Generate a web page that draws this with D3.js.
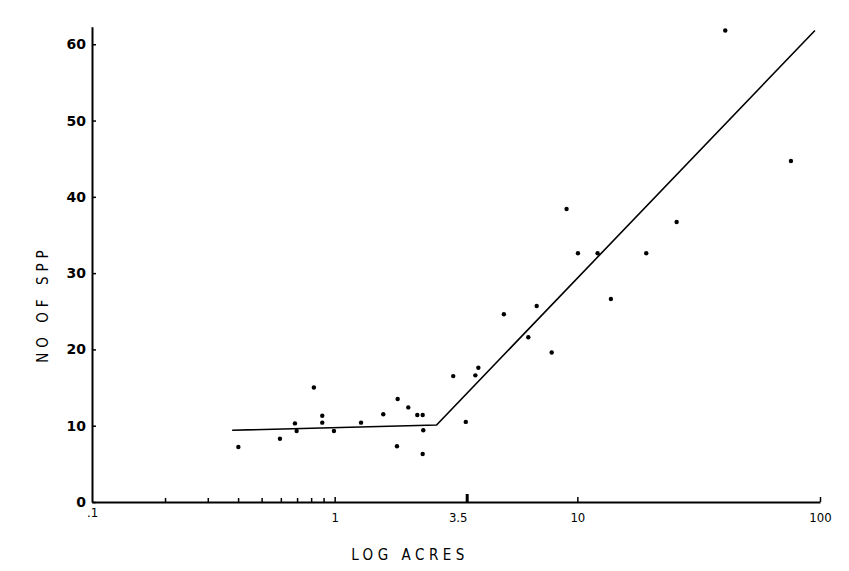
<!DOCTYPE html>
<html>
<head>
<meta charset="utf-8">
<script src="https://cdn.jsdelivr.net/npm/d3@7"></script>
<style>
  body { margin: 0; background: #fff; }
  svg { display: block; }
</style>
</head>
<body>
<svg id="chart" width="849" height="571"></svg>
<script>
// plot points
const acres = [0.401, 0.595, 0.686, 0.697, 0.821, 0.889, 0.889, 0.993, 1.284, 1.586,
               1.818, 1.806, 2.011, 2.190, 2.305, 2.318, 2.305, 3.08, 3.47, 3.80,
               3.91, 4.98, 6.28, 6.80, 7.84, 9.03, 10.06, 12.12, 13.75, 19.23,
               25.66, 40.7, 75.9];
const species = [7.2, 8.3, 10.3, 9.3, 15.0, 11.3, 10.4, 9.3, 10.4, 11.5,
                 13.5, 7.3, 12.4, 11.4, 11.4, 9.4, 6.3, 16.5, 10.5, 16.6,
                 17.6, 24.6, 21.6, 25.7, 19.6, 38.4, 32.6, 32.6, 26.6, 32.6,
                 36.7, 61.8, 44.7];

// broken-stick fit line
const fitAcres = [0.378, 2.63, 95.3];
const fitSpecies = [9.4, 10.1, 61.8];

const xMajor = [0.1, 1, 3.5, 10, 100];
const xMajorLabels = [".1", "1", "3.5", "10", "100"];
const xMinor = [0.2, 0.3, 0.4, 0.5, 0.6, 0.7, 0.8, 0.9];
const yTicks = [0, 10, 20, 30, 40, 50, 60];

const svg = d3.select("#chart");

const x = d3.scaleLog().domain([0.1, 100]).range([92, 820]);
const y = d3.scaleLinear().domain([0, 62.3]).range([502, 26.7]);

// y axis
const yAxis = svg.append("g")
    .attr("transform", "translate(92,0)")
    .call(d3.axisLeft(y).tickValues(yTicks).tickSizeInner(-4).tickSizeOuter(0).tickPadding(6));
yAxis.select(".domain").attr("stroke-width", 2);
yAxis.selectAll(".tick line").attr("stroke-width", 1.5);
yAxis.selectAll(".tick text")
    .style("font-family", "'DejaVu Sans', sans-serif")
    .style("font-size", "14px")
    .style("font-weight", "bold")
    .attr("fill", "#000");

// x axis minor ticks
svg.append("g")
    .attr("transform", "translate(0,502)")
    .call(d3.axisBottom(x).tickValues(xMinor).tickSize(-4).tickFormat(""))
    .call(g => g.select(".domain").remove())
    .selectAll(".tick line").attr("stroke-width", 1.5);

// x axis
const xAxis = svg.append("g")
    .attr("transform", "translate(0,502)")
    .call(d3.axisBottom(x).tickValues(xMajor).tickSizeInner(-5).tickSizeOuter(0).tickPadding(11)
        .tickFormat((d, i) => xMajorLabels[i]));
xAxis.select(".domain").attr("stroke-width", 2);
xAxis.selectAll(".tick line").attr("stroke-width", (d) => d === 3.5 ? 3 : 1.5)
    .attr("y2", (d) => d === 3.5 ? -8 : -5);
xAxis.selectAll(".tick").filter(d => d === 0.1).select("line").remove();
xAxis.selectAll(".tick text")
    .style("font-family", "'DejaVu Sans Condensed', 'DejaVu Sans', sans-serif")
    .style("font-size", "13px")
    .attr("fill", "#000");
xAxis.selectAll(".tick").filter(d => d === 3.5).select("text").attr("dx", -9);
xAxis.selectAll(".tick").filter(d => d === 0.1).select("text").attr("dy", "0.3em");

// fit line
const line = d3.line()
    .x((d, i) => x(fitAcres[i]))
    .y((d, i) => y(fitSpecies[i]));
svg.append("path")
    .datum(fitAcres)
    .attr("d", line)
    .attr("fill", "none")
    .attr("stroke", "#000")
    .attr("stroke-width", 1.6);

// points
svg.selectAll("circle.pt")
    .data(acres)
    .enter()
    .append("circle")
    .attr("class", "pt")
    .attr("cx", d => x(d))
    .attr("cy", (d, i) => y(species[i]))
    .attr("r", 2.2)
    .attr("fill", "#000");

// axis titles
svg.append("text")
    .attr("x", 410)
    .attr("y", 560)
    .attr("text-anchor", "middle")
    .style("font-family", "'DejaVu Sans Condensed', 'DejaVu Sans', sans-serif")
    .style("font-size", "15px")
    .style("letter-spacing", "4.5px")
    .text("LOG  ACRES");

svg.append("text")
    .attr("transform", "translate(48,304) rotate(-90)")
    .attr("text-anchor", "middle")
    .style("font-family", "'DejaVu Sans Condensed', 'DejaVu Sans', sans-serif")
    .style("font-size", "15px")
    .style("letter-spacing", "5px")
    .text("NO  OF  SPP");
</script>
</body>
</html>
